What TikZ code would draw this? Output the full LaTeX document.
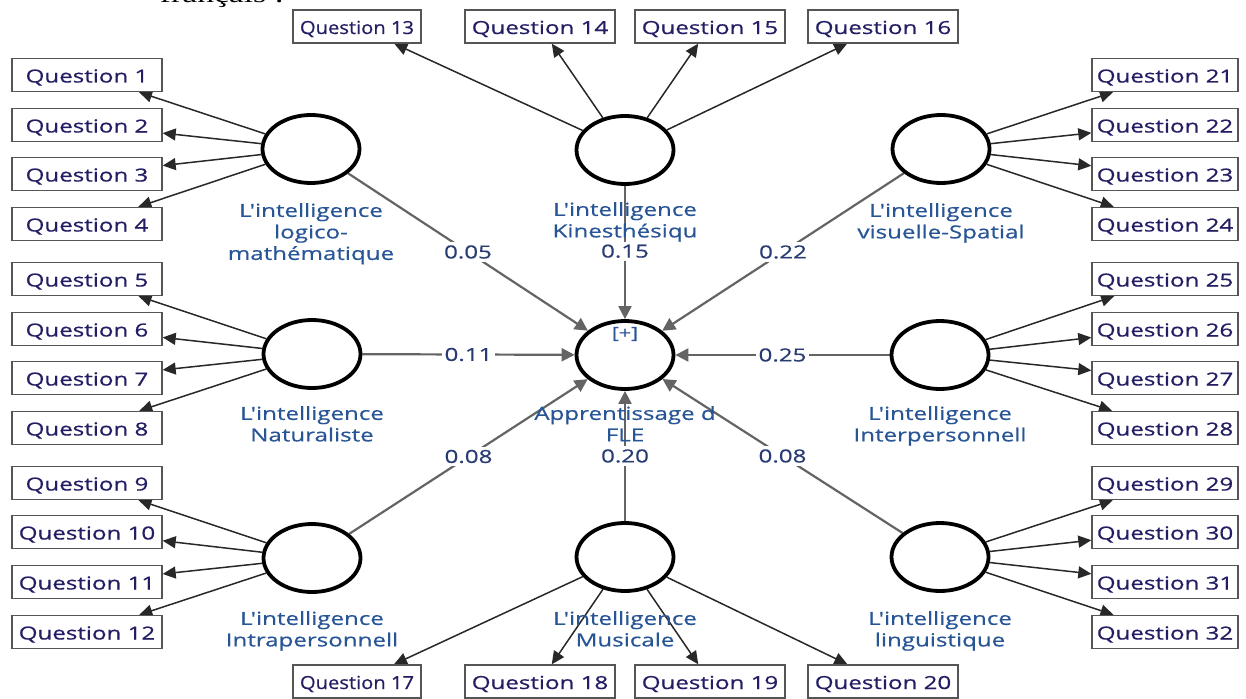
\documentclass[tikz,border=0pt]{standalone}
\usepackage{fontspec}
\setmainfont{Open Sans}
\newfontfamily\qfont[FakeStretch=1.34,FakeBold=0.6]{Open Sans}
\newfontfamily\qfontn[FakeStretch=1.12,FakeBold=0.6]{Open Sans}
\newfontfamily\topfont[FakeStretch=1.4]{Liberation Serif}
\usetikzlibrary{arrows.meta,shapes.geometric,backgrounds}
\definecolor{qtext}{RGB}{35,30,100}
\definecolor{ltext}{RGB}{40,85,150}
\definecolor{ntext}{RGB}{40,60,115}
\definecolor{boxline}{RGB}{85,85,85}
\definecolor{strline}{RGB}{100,100,100}
\definecolor{indline}{RGB}{40,40,40}
\begin{document}
\begin{tikzpicture}[x=1pt,y=-1pt,
 qbox/.style={draw=boxline,line width=1.4pt,fill=white,minimum width=150pt,minimum height=33pt,inner sep=0pt,text height=15pt,text depth=0pt,font=\qfont\fontsize{18}{22}\selectfont,text=qtext},
 qboxn/.style={qbox,minimum width=128pt,font=\qfontn\fontsize{18}{22}\selectfont},
 qboxr/.style={qbox,minimum width=146pt},
 latent/.style={ellipse,draw=black,line width=3.8pt,fill=white,minimum width=97pt,minimum height=68pt,inner sep=0pt},
 lab/.style={anchor=north,align=center,inner sep=0pt,font=\qfont\fontsize{18}{21.5}\selectfont,text=ltext},
 ind/.style={draw=indline,line width=1.5pt,-{Triangle[length=13pt,width=12pt]}},
 str/.style={draw=strline,line width=2.2pt,-{Triangle[length=13pt,width=13pt]}},
 plab/.style={fill=white,inner sep=3pt,font=\qfont\fontsize{18}{21}\selectfont,text=ntext}]
\useasboundingbox (0,0) rectangle (1246,698);
\begin{scope}
\clip (0,0) rectangle (1246,698);
\node[anchor=base,inner sep=0pt,font=\topfont\fontsize{24}{26}\selectfont] (titre) at (222,3) {français :};
\end{scope}
% latent variables
\node[latent] (logico) at (311,149) {};
\node[latent] (kine) at (625,150) {};
\node[latent] (visu) at (941,149) {};
\node[latent] (natur) at (312,354) {};
\node[latent] (fle) at (625,355) {};
\node[latent] (inter) at (940,355) {};
\node[latent] (intra) at (312,558) {};
\node[latent] (music) at (625,557) {};
\node[latent] (ling) at (940,557) {};
% left boxes
\node[qbox] (q1) at (87,75) {Question 1};
\node[qbox] (q2) at (87,125) {Question 2};
\node[qbox] (q3) at (87,174) {Question 3};
\node[qbox] (q4) at (87,224) {Question 4};
\node[qbox] (q5) at (87,279) {Question 5};
\node[qbox] (q6) at (87,329) {Question 6};
\node[qbox] (q7) at (87,378) {Question 7};
\node[qbox] (q8) at (87,428) {Question 8};
\node[qbox] (q9) at (87,483) {Question 9};
\node[qbox] (q10) at (87,532) {Question 10};
\node[qbox] (q11) at (87,582) {Question 11};
\node[qbox] (q12) at (87,632) {Question 12};
% top boxes
\node[qboxn] (q13) at (357,26.5) {Question 13};
\node[qbox] (q14) at (540,26.5) {Question 14};
\node[qbox] (q15) at (710,26.5) {Question 15};
\node[qbox] (q16) at (883,26.5) {Question 16};
% bottom boxes
\node[qboxn] (q17) at (357,681.5) {Question 17};
\node[qbox] (q18) at (540,681.5) {Question 18};
\node[qbox] (q19) at (710,681.5) {Question 19};
\node[qbox] (q20) at (883,681.5) {Question 20};
% right boxes
\node[qboxr] (q21) at (1165,75) {Question 21};
\node[qboxr] (q22) at (1165,125) {Question 22};
\node[qboxr] (q23) at (1165,174) {Question 23};
\node[qboxr] (q24) at (1165,224) {Question 24};
\node[qboxr] (q25) at (1165,279) {Question 25};
\node[qboxr] (q26) at (1165,329) {Question 26};
\node[qboxr] (q27) at (1165,378) {Question 27};
\node[qboxr] (q28) at (1165,428) {Question 28};
\node[qboxr] (q29) at (1165,483) {Question 29};
\node[qboxr] (q30) at (1165,532) {Question 30};
\node[qboxr] (q31) at (1165,582) {Question 31};
\node[qboxr] (q32) at (1165,632) {Question 32};
% connectors
\begin{scope}[on background layer]
\foreach \a/\b in {logico/q1,logico/q2,logico/q3,logico/q4,
  natur/q5,natur/q6,natur/q7,natur/q8,
  intra/q9,intra/q10,intra/q11,intra/q12,
  kine/q13,kine/q14,kine/q15,kine/q16,
  music/q17,music/q18,music/q19,music/q20,
  visu/q21,visu/q22,visu/q23,visu/q24,
  inter/q25,inter/q26,inter/q27,inter/q28,
  ling/q29,ling/q30,ling/q31,ling/q32}
  \draw[ind] (\a) -- (\b);
\draw[str] (logico) -- node[plab] {0.05} (fle);
\draw[str] (kine) -- node[plab,pos=0.49] {0.15} (fle);
\draw[str] (visu) -- node[plab] {0.22} (fle);
\draw[str] (natur) -- node[plab] {0.11} (fle);
\draw[str] (inter) -- node[plab] {0.25} (fle);
\draw[str] (intra) -- node[plab] {0.08} (fle);
\draw[str] (music) -- node[plab] {0.20} (fle);
\draw[str] (ling) -- node[plab] {0.08} (fle);
\end{scope}
% latent labels
\node[lab] (llogico) at (311,203) {L'intelligence\\logico-\\mathématique};
\node[lab] (lkine) at (625,202) {L'intelligence\\Kinesthésiqu};
\node[lab] (lvisu) at (941,203) {L'intelligence\\visuelle-Spatial};
\node[lab] (lnatur) at (312,406) {L'intelligence\\Naturaliste};
\node[lab] (lfle) at (625,406) {Apprentissage d\\FLE};
\node[lab] (linter) at (940,406) {L'intelligence\\Interpersonnell};
\node[lab] (lintra) at (312,611) {L'intelligence\\Intrapersonnell};
\node[lab] (lmusic) at (625,611) {L'intelligence\\Musicale};
\node[lab] (lling) at (940,611) {L'intelligence\\linguistique};
\node[inner sep=0pt,font=\qfont\fontsize{16}{18}\selectfont,text=ltext] (plus) at (625,334) {[+]};
\end{tikzpicture}
\end{document}
